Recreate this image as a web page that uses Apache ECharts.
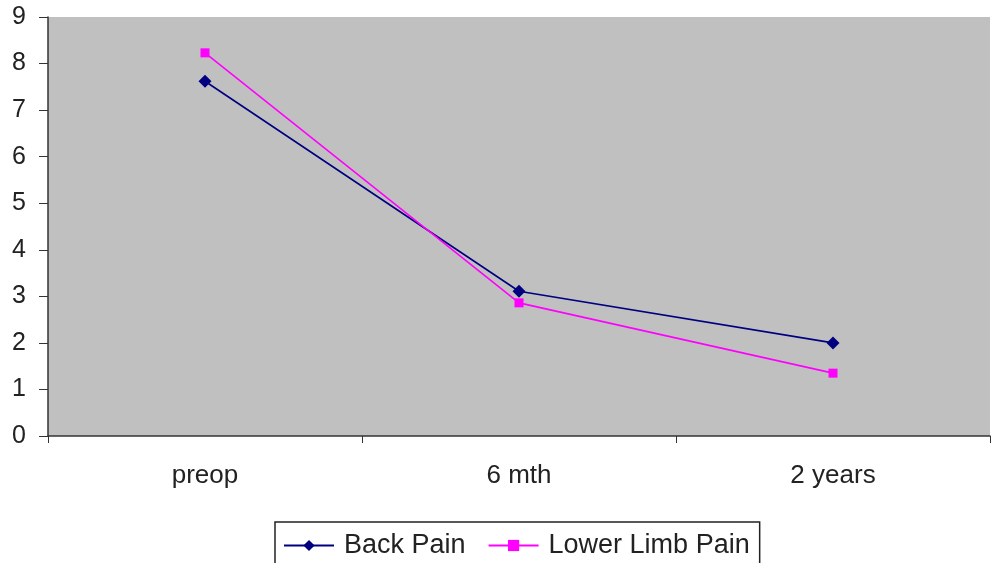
<!DOCTYPE html>
<html><head><meta charset="utf-8">
<script src="https://cdn.jsdelivr.net/npm/echarts@6/dist/echarts.min.js"></script>
<style>html,body{margin:0;padding:0;background:#fff}#c{width:992px;height:563px}</style>
</head><body><div id="c"></div>
<script>
var categories = ['preop', '6 mth', '2 years'];
var backPain = [7.62, 3.11, 2.0];
var lowerLimbPain = [8.23, 2.86, 1.35];
var yTicks = [0, 9, 1];

var chart = echarts.init(document.getElementById('c'));
chart.setOption({
  animation: false,
  backgroundColor: '#ffffff',
  grid: {left: 48, right: 2, top: 17, bottom: 127, show: true, backgroundColor: '#c0c0c0', borderWidth: 0},
  xAxis: {
    type: 'category', data: categories, boundaryGap: true,
    axisLine: {lineStyle: {color: '#333', width: 1.5}},
    axisTick: {show: true, length: 7, interval: 0, lineStyle: {color: '#333'}},
    axisLabel: {fontFamily: 'Liberation Sans, Arial', fontSize: 26, color: '#222', margin: 27}
  },
  yAxis: {
    type: 'value', min: yTicks[0], max: yTicks[1], interval: yTicks[2],
    axisLine: {show: true, lineStyle: {color: '#333', width: 1.5}},
    axisTick: {show: true, length: 9, lineStyle: {color: '#333'}},
    splitLine: {show: false},
    axisLabel: {fontFamily: 'Liberation Sans, Arial', fontSize: 25, color: '#222', margin: 22}
  },
  legend: {
    top: 522, left: 275,
    borderColor: '#222', borderWidth: 1.5, padding: [10, 10, 20, 8],
    itemWidth: 50, itemHeight: 14, itemGap: 22,
    textStyle: {fontFamily: 'Liberation Sans, Arial', fontSize: 27, color: '#222', padding: [0, 0, 0, 5]},
    data: ['Back Pain', 'Lower Limb Pain']
  },
  series: [
    {name: 'Back Pain', type: 'line', data: backPain, symbol: 'diamond', symbolSize: 13,
     lineStyle: {color: '#000080', width: 1.6}, itemStyle: {color: '#000080'}},
    {name: 'Lower Limb Pain', type: 'line', data: lowerLimbPain, symbol: 'rect', symbolSize: 9,
     lineStyle: {color: '#ff00ff', width: 1.6}, itemStyle: {color: '#ff00ff'}}
  ]
});
</script></body></html>
